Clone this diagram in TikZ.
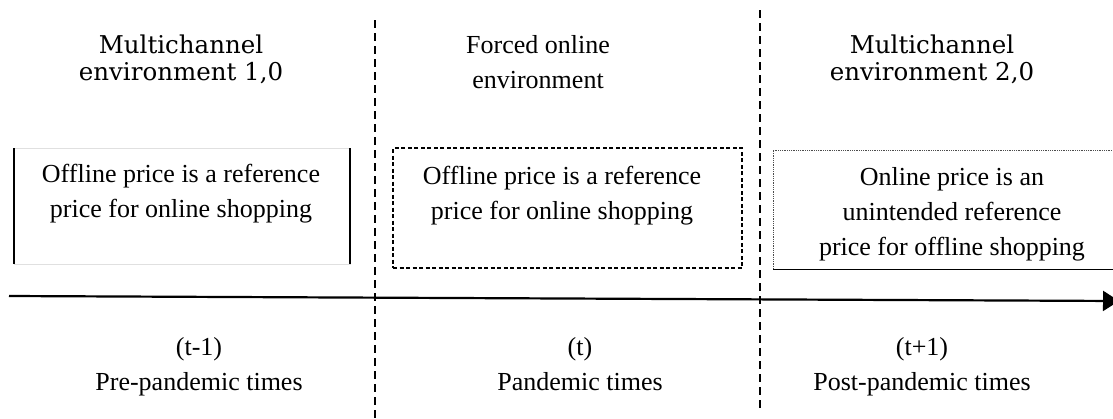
\documentclass[tikz,border=0pt]{standalone}
\usepackage{fontspec}
\setmainfont{Liberation Serif}
\newfontfamily\headfont{DejaVu Serif}
\usetikzlibrary{calc,arrows.meta}

\tikzset{
  lbl/.style={align=center, inner sep=0pt, font=\fontsize{26}{35}\selectfont,
      execute at begin node=\strut, execute at end node=\strut},
  headlbl/.style={align=center, inner sep=0pt, font=\headfont\fontsize{24.5}{27}\selectfont},
  divider/.style={line width=1.4pt, dash pattern=on 8pt off 5pt},
  pricebox/.style={inner sep=0pt, outer sep=0pt},
}

\begin{document}
\begin{tikzpicture}[x=1pt,y=-1pt]
    \useasboundingbox (0,0) rectangle (1113,418);

    \coordinate (divA top) at (375,20);
    \coordinate (divA bot) at (375,418);
    \coordinate (divB top) at (760,10);
    \coordinate (divB bot) at (760,408);
    \draw [divider] (divA top) -- (divA bot);
    \draw [divider] (divB top) -- (divB bot);

    \node (era1) [headlbl] at (181,59) {Multichannel\\environment 1,0};
    \node (era2) [lbl] at (538,67) {Forced online\\environment};
    \node (era3) [headlbl] at (932,59) {Multichannel\\environment 2,0};

    \node (box1) [pricebox, minimum width=336pt, minimum height=116pt,
        draw=black!12, line width=0.6pt] at (182,206) {};
    \draw [line width=1.8pt] (box1.north west) -- (box1.south west);
    \draw [line width=1.8pt] (box1.north east) -- (box1.south east);

    \node (box2) [pricebox, minimum width=349pt, minimum height=120pt,
        draw, line width=1.4pt, dash pattern=on 4pt off 2.5pt] at (567.5,208) {};

    \node (box3) [pricebox, minimum width=362pt, minimum height=119pt] at (954,209.5) {};
    \draw [black!70, line width=0.8pt, dash pattern=on 1pt off 0.8pt]
        (box3.south west) -- (box3.north west) -- (box3.north east);
    \draw [line width=1pt] (box3.south west) -- (box3.south east);

    \node (ref1) [lbl] at (181,196) {Offline price is a reference\\price for online shopping};
    \node (ref2) [lbl] at (562,198) {Offline price is a reference\\price for online shopping};
    \node (ref3) [lbl] at (952,217) {Online price is an\\unintended reference\\price for offline shopping};

    \coordinate (tstart) at (9,296);
    \coordinate (tend) at (1119,301);
    \draw [line width=2.2pt, -{Triangle[length=16pt,width=20pt]}] (tstart) -- (tend);

    \node (per1) [lbl] at (199,369) {(t-1)\\Pre-pandemic times};
    \node (per2) [lbl] at (580,369) {(t)\\Pandemic times};
    \node (per3) [lbl] at (922,369) {(t+1)\\Post-pandemic times};

\end{tikzpicture}
\end{document}
